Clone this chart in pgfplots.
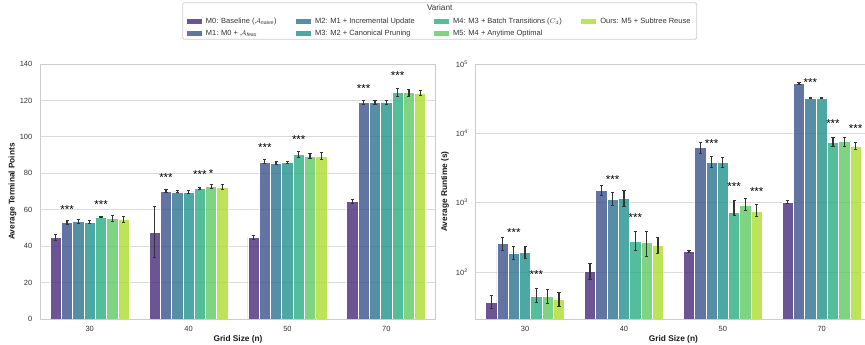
\documentclass[border=0pt]{standalone}
\usepackage{pgfplots}
\pgfplotsset{compat=1.18}
\usepackage{fontspec}
\setmainfont{Liberation Sans}

% viridis, seven steps
\definecolor{cM0}{HTML}{472A7A}
\definecolor{cM1}{HTML}{3B528B}
\definecolor{cM2}{HTML}{2C728E}
\definecolor{cM3}{HTML}{21918C}
\definecolor{cM4}{HTML}{28AE80}
\definecolor{cM5}{HTML}{5EC962}
\definecolor{cOurs}{HTML}{ADDC30}
\definecolor{gridc}{HTML}{DADADA}
\definecolor{spine}{HTML}{CCCCCC}
\definecolor{txt}{HTML}{333333}
\definecolor{errc}{HTML}{333333}

\tikzset{sigmark/.style={font=\fontsize{11.5}{11.5}\selectfont, text=black, inner sep=0pt, yshift=-2.6pt}}

\pgfplotsset{
  panel/.style={
    scale only axis, width=395.4pt, height=255pt,
    ybar, bar width=0.1143,
    xmin=-0.5, xmax=3.5,
    xtick={0,1,2,3}, xticklabels={30,40,50,70},
    axis line style={draw=spine, line width=0.8pt},
    major tick length=0pt, minor tick length=0pt,
    ymajorgrids, grid style={draw=gridc, line width=0.8pt},
    tick label style={font=\fontsize{7.5}{9}\selectfont, text=txt},
    xticklabel style={yshift=-3.5pt},
    yticklabel style={xshift=-4.5pt},
    label style={font=\fontsize{8.3}{10}\selectfont\bfseries, text=black!90},
    xlabel={Grid Size (n)},
    xlabel style={at={(axis description cs:0.5,-0.0784)}, anchor=center},
    /pgf/number format/assume math mode=true,
    every axis plot/.append style={
      draw=white, line width=0.7pt, fill opacity=0.8,
      error bars/y dir=both, error bars/y explicit,
      error bars/error bar style={draw=errc, line width=1.3pt, draw opacity=1},
      error bars/error mark options={rotate=90, draw=errc, line width=1pt, mark size=1.6pt, draw opacity=1},
    },
  },
}

\begin{document}
\begin{tikzpicture}
\path[use as bounding box] (0,0) rectangle (865pt,345pt);

% ---------------- Average terminal points ----------------
\begin{axis}[panel,
  at={(40.3pt,26pt)}, anchor=south west,
  ymin=0, ymax=140, ytick={0,20,...,140},
  ylabel={Average Terminal Points},
  ylabel style={at={(axis description cs:-0.070,0.5)}, anchor=center},
  legend columns=4,
  legend cell align=left,
  legend image code/.code={\path[#1,draw=none] (0pt,-2.3pt) rectangle (15pt,2.3pt);},
  legend style={draw=none, fill=none, inner sep=0pt,
    at={(0.3703,1.1894)}, anchor=north west,
    font=\fontsize{7.5}{9}\selectfont, text=txt,
    row sep=1.2pt,
    /tikz/every odd column/.append style={column sep=2pt},
    /tikz/every even column/.append style={column sep=17.5pt}},
]
\addplot[fill=cM0, bar shift=-0.3429] coordinates {
  (0,44.8) +- (0,1.6)  (1,47.5) += (0,14.3) -= (0,13.6)
  (2,44.8) +- (0,1.0)  (3,64.5) +- (0,1.0)};
\addlegendentry{M0: Baseline ($\mathcal{A}_{\mathit{naive}}$)}
\addplot[fill=cM2, bar shift=-0.1143] coordinates {
  (0,53.4) +- (0,1.0)  (1,69.8) +- (0,0.6)
  (2,85.7) +- (0,1.0)  (3,118.9) +- (0,1.0)};
\addlegendentry{M2: M1 + Incremental Update}
\addplot[fill=cM4, bar shift=0.1143] coordinates {
  (0,56.0) +- (0,0.4)  (1,71.6) +- (0,0.6)
  (2,90.2) +- (0,1.6)  (3,124.4) +- (0,2.0)};
\addlegendentry{M4: M3 + Batch Transitions ($C_4$)}
\addplot[fill=cOurs, bar shift=0.3429] coordinates {
  (0,54.7) +- (0,1.8)  (1,72.3) +- (0,1.3)
  (2,89.5) +- (0,2.0)  (3,124.0) +- (0,1.4)};
\addlegendentry{Ours: M5 + Subtree Reuse}
\addplot[fill=cM1, bar shift=-0.2286] coordinates {
  (0,53.0) +- (0,1.0)  (1,70.1) +- (0,0.9)
  (2,86.2) +- (0,1.1)  (3,118.9) +- (0,1.0)};
\addlegendentry{M1: M0 + $\mathcal{A}_{\mathit{feas}}$}
\addplot[fill=cM3, bar shift=0] coordinates {
  (0,53.2) +- (0,0.7)  (1,69.8) +- (0,0.8)
  (2,85.9) +- (0,0.7)  (3,118.9) +- (0,0.9)};
\addlegendentry{M3: M2 + Canonical Pruning}
\addplot[fill=cM5, bar shift=0.2286] coordinates {
  (0,55.2) +- (0,1.4)  (1,72.7) +- (0,1.3)
  (2,89.5) +- (0,1.4)  (3,124.2) +- (0,1.8)};
\addlegendentry{M5: M4 + Anytime Optimal}

% significance marks
\node[sigmark] at (axis cs:-0.2286,61.65) {***};
\node[sigmark] at (axis cs:0.1143,64.4) {***};
\node[sigmark] at (axis cs:0.7714,79.1) {***};
\node[sigmark] at (axis cs:1.1143,80.7) {***};
\node[sigmark] at (axis cs:1.2286,81.4) {*};
\node[sigmark] at (axis cs:1.7714,95.5) {***};
\node[sigmark] at (axis cs:2.1143,99.8) {***};
\node[sigmark] at (axis cs:2.7714,127.9) {***};
\node[sigmark] at (axis cs:3.1143,134.9) {***};
\end{axis}

% ---------------- Average runtime ----------------
\begin{axis}[panel,
  at={(475.7pt,26pt)}, anchor=south west,
  ymode=log, log basis y=10,
  ymin=21, ymax=100000,
  ytick={100,1000,10000,100000},
  yticklabels={10\textsuperscript{2},10\textsuperscript{3},10\textsuperscript{4},10\textsuperscript{5}},
  ylabel={Average Runtime (s)},
  ylabel style={at={(axis description cs:-0.0777,0.5)}, anchor=center},
]
\addplot[fill=cM0, bar shift=-0.3429] coordinates {
  (0,36.9) += (0,8.7) -= (0,7.0)   (1,103) += (0,30) -= (0,25)
  (2,196) += (0,6) -= (0,6)        (3,1020) += (0,40) -= (0,40)};
\addplot[fill=cM1, bar shift=-0.2286] coordinates {
  (0,256) += (0,60) -= (0,49)      (1,1489) += (0,269) -= (0,227)
  (2,6210) += (0,1210) -= (0,1060) (3,52600) += (0,1600) -= (0,1600)};
\addplot[fill=cM2, bar shift=-0.1143] coordinates {
  (0,188) += (0,44) -= (0,36)      (1,1105) += (0,288) -= (0,180)
  (2,3820) += (0,740) -= (0,620)   (3,32400) += (0,900) -= (0,900)};
\addplot[fill=cM3, bar shift=0] coordinates {
  (0,194) += (0,42) -= (0,35)      (1,1155) += (0,334) -= (0,260)
  (2,3775) += (0,675) -= (0,575)   (3,32400) += (0,900) -= (0,900)};
\addplot[fill=cM4, bar shift=0.1143] coordinates {
  (0,45.1) += (0,11.9) -= (0,9.1)  (1,277) += (0,105) -= (0,76)
  (2,728) += (0,342) -= (0,64)     (3,7500) += (0,1350) -= (0,1070)};
\addplot[fill=cM5, bar shift=0.2286] coordinates {
  (0,44.6) += (0,11.9) -= (0,9.0)  (1,271) += (0,111) -= (0,105)
  (2,927) += (0,203) -= (0,168)    (3,7560) += (0,1290) -= (0,1080)};
\addplot[fill=cOurs, bar shift=0.3429] coordinates {
  (0,40.8) += (0,9.5) -= (0,8.5)   (1,245) += (0,71) -= (0,59)
  (2,759) += (0,168) -= (0,131)    (3,6430) += (0,900) -= (0,670)};

% significance marks
\node[sigmark] at (axis cs:-0.1143,404) {***};
\node[sigmark] at (axis cs:0.1143,100) {***};
\node[sigmark] at (axis cs:0.8857,2371) {***};
\node[sigmark] at (axis cs:1.1143,664) {***};
\node[sigmark] at (axis cs:1.8857,7850) {***};
\node[sigmark] at (axis cs:2.1143,1845) {***};
\node[sigmark] at (axis cs:2.3429,1560) {***};
\node[sigmark] at (axis cs:2.8857,59000) {***};
\node[sigmark] at (axis cs:3.1143,15100) {***};
\node[sigmark] at (axis cs:3.3429,12800) {***};
\end{axis}

% legend frame and title
\draw[spine, line width=0.8pt, rounded corners=1.5pt] (182.7pt,305.7pt) rectangle (696.7pt,342.3pt);
\node[font=\fontsize{8.2}{10}\selectfont, text=txt] at (439.7pt,337pt) {Variant};
\end{tikzpicture}
\end{document}
